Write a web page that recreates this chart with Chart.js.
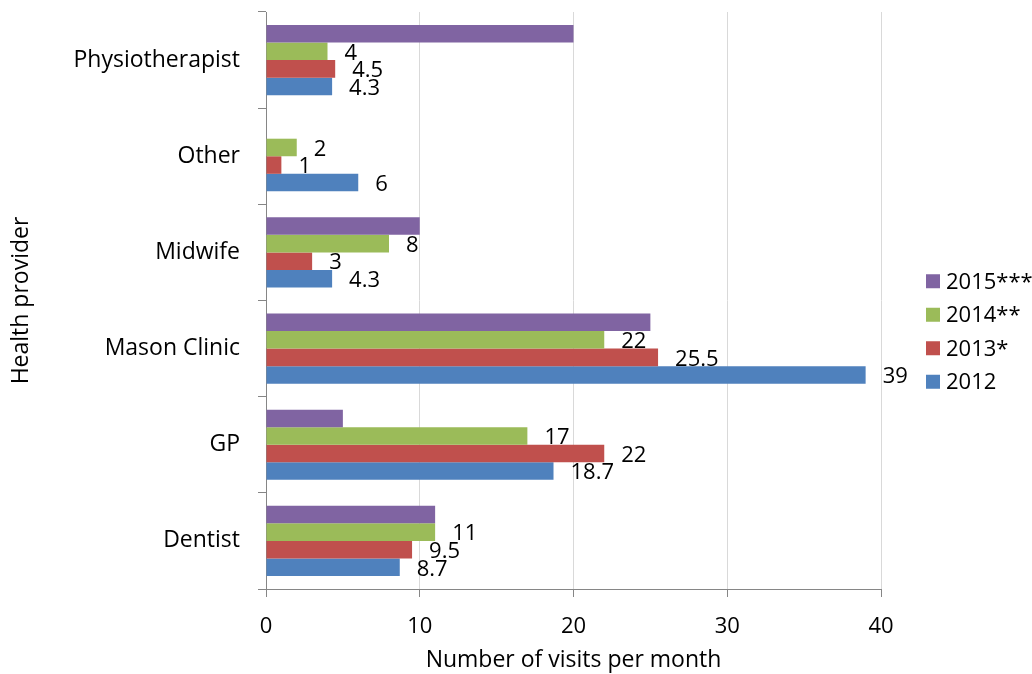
<!DOCTYPE html>
<html><head><meta charset="utf-8">
<script src="https://cdn.jsdelivr.net/npm/chart.js@4/dist/chart.umd.min.js"></script>
<style>html,body{margin:0;padding:0;background:#fff}#wrap{width:1032px;height:674px}</style>
</head><body><div id="wrap"><canvas id="c" width="1032" height="674"></canvas></div>
<script>
const categories = ['Physiotherapist', 'Other', 'Midwife', 'Mason Clinic', 'GP', 'Dentist'];
const seriesNames = ['2015***', '2014**', '2013*', '2012'];
const v2015 = [20, 0, 10, 25, 5, 11];
const v2014 = [4, 2, 8, 22, 17, 11];
const v2013 = [4.5, 1, 3, 25.5, 22, 9.5];
const v2012 = [4.3, 6, 4.3, 39, 18.7, 8.7];
const xTicks = [0, 10, 20, 30, 40];
const xTitle = 'Number of visits per month';
const yTitle = 'Health provider';

const seriesValues = [v2015, v2014, v2013, v2012];
const colors = ['#8064A2', '#9BBB59', '#C0504D', '#4F81BD'];
const showLabels = [false, true, true, true];
const FAMILY = '"Open Sans", "DejaVu Sans", sans-serif';
const FSIZE = 22;
const font = {family: FAMILY, size: FSIZE};
const catFont = {family: FAMILY, size: 23};
const titleFont = {family: FAMILY, size: 23};

const valueLabels = {
  id: 'valueLabels',
  afterDatasetsDraw(chart) {
    const ctx = chart.ctx;
    ctx.save();
    ctx.font = FSIZE + 'px ' + FAMILY;
    ctx.fillStyle = '#000';
    ctx.textAlign = 'left';
    ctx.textBaseline = 'middle';
    chart.data.datasets.forEach((ds, i) => {
      if (!showLabels[i]) return;
      const meta = chart.getDatasetMeta(i);
      meta.data.forEach((el, j) => {
        const v = ds.data[j];
        if (v === null || v === undefined) return;
        ctx.fillText(String(v), el.x + 17, el.y + 2);
      });
    });
    ctx.restore();
  }
};

const sideLegend = {
  id: 'sideLegend',
  afterDraw(chart) {
    const ctx = chart.ctx;
    const ca = chart.chartArea;
    ctx.save();
    ctx.font = FSIZE + 'px ' + FAMILY;
    ctx.textAlign = 'left';
    ctx.textBaseline = 'middle';
    const n = chart.data.datasets.length;
    const step = 33.5;
    const cy = (ca.top + ca.bottom) / 2 + 31;
    const y0 = cy - step * (n - 1) / 2;
    chart.data.datasets.forEach((ds, i) => {
      const y = y0 + i * step;
      ctx.fillStyle = ds.backgroundColor;
      ctx.fillRect(ca.right + 45, y - 7, 14, 14);
      ctx.fillStyle = '#000';
      ctx.fillText(ds.label, ca.right + 65, y + 1);
    });
    ctx.restore();
  }
};

new Chart(document.getElementById('c'), {
  type: 'bar',
  data: {
    labels: categories,
    datasets: seriesNames.map((name, i) => ({
      label: name,
      data: seriesValues[i],
      backgroundColor: colors[i],
      borderWidth: 0,
      categoryPercentage: 0.73,
      barPercentage: 1.0
    }))
  },
  options: {
    indexAxis: 'y',
    responsive: false,
    animation: false,
    devicePixelRatio: 1,
    layout: {padding: {top: 12, right: 151, bottom: 0, left: 0}},
    plugins: {legend: {display: false}, tooltip: {enabled: false}},
    scales: {
      x: {
        min: 0, max: 40,
        afterBuildTicks(s) { s.ticks = xTicks.map(v => ({value: v})); },
        ticks: {color: '#000', font, padding: 17, maxRotation: 0},
        grid: {color: '#d9d9d9', tickColor: '#868686', tickLength: 8},
        border: {color: '#868686'},
        title: {display: true, text: xTitle, color: '#000', font: titleFont, padding: {top: 0, bottom: 0}},
        afterFit(s) { s.height = 85; s.paddingLeft = 0; s.paddingRight = 0; }
      },
      y: {
        grid: {drawOnChartArea: false, drawTicks: true, tickLength: 8, color: '#868686', offset: true},
        border: {color: '#868686'},
        ticks: {color: '#000', font: catFont, padding: 18},
        title: {display: true, text: yTitle, color: '#000', font: titleFont, padding: {top: 8, bottom: 0}},
        afterFit(s) { s.width = 266; s.paddingTop = 0; s.paddingBottom = 0; }
      }
    }
  },
  plugins: [valueLabels, sideLegend]
});
</script>
</body></html>
